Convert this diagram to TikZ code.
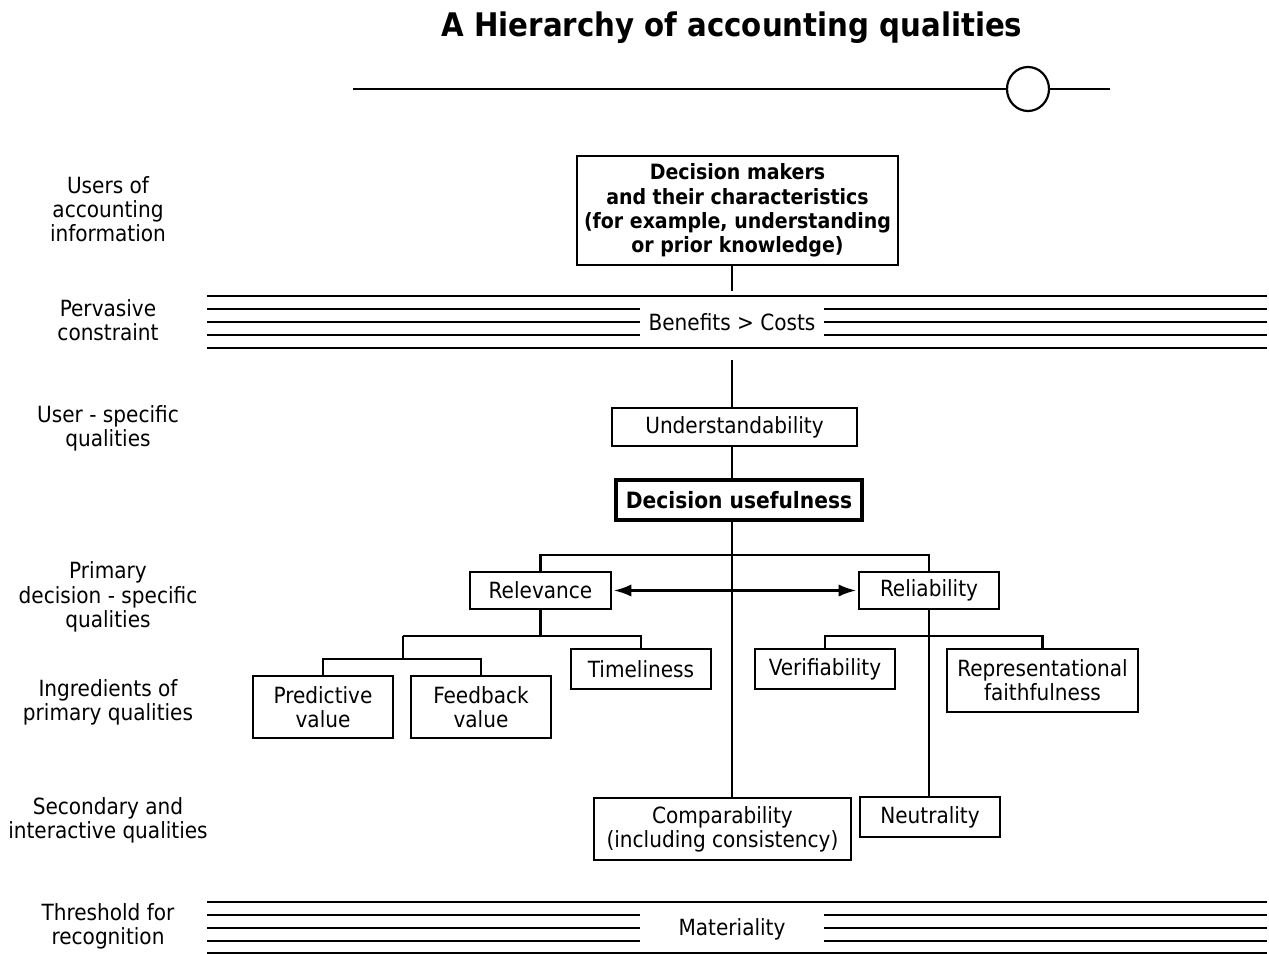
\documentclass[tikz,border=0pt]{standalone}
\usepackage{fontspec}
\setmainfont{DejaVu Sans Condensed}
\usetikzlibrary{arrows.meta,shapes.geometric}
\begin{document}
\begin{tikzpicture}[x=0.02cm, y=-0.02cm,
  every node/.style={font=\fontsize{12.7}{13.8}\selectfont, align=center, inner sep=0pt},
  sz/.style 2 args={minimum width=#1*0.02cm, minimum height=#2*0.02cm},
  box/.style={draw, line width=1.25pt},
  sidelabel/.style={},
  wire/.style={line width=1.25pt},
  rule/.style={line width=1.6pt}]
\useasboundingbox (0,0) rectangle (1269,954);

% title and ornament
\node[font=\fontsize{18.5}{20}\selectfont\bfseries] (title) at (732,28) {A Hierarchy of accounting qualities};
\node[draw, line width=1.25pt, ellipse, sz={42}{44}] (knob) at (1028,89) {};
\coordinate (ornL) at (353,89);
\coordinate (ornR) at (1110,89);
\draw[wire] (ornL) -- (knob.west);
\draw[wire] (knob.east) -- (ornR);

% row labels
\node[sidelabel] (l1) at (108,209) {Users of\\accounting\\information};
\node[sidelabel] (l2) at (108,320) {Pervasive\\constraint};
\node[sidelabel] (l3) at (108,428) {User - specific\\qualities};
\node[sidelabel] (l4) at (108,597) {Primary\\decision - specific\\qualities};
\node[sidelabel] (l5) at (108,702) {Ingredients of\\primary qualities};
\node[sidelabel] (l6) at (108,820) {Secondary and\\interactive qualities};
\node[sidelabel] (l7) at (108,926) {Threshold for\\recognition};

% boxes
\node[box, sz={321}{109}, font=\fontsize{12}{13.8}\selectfont\bfseries] (top) at (737.5,210.5)
  {Decision makers\\and their characteristics\\(for example, understanding\\or prior knowledge)};
\node[box, sz={245}{38}] (und) at (734.5,427) {Understandability};
\node[box, line width=1.8pt, sz={246}{40}, font=\fontsize{12.8}{13.8}\selectfont\bfseries] (dec) at (739,500) {Decision usefulness};
\node[box, sz={141}{37}] (rel) at (540.5,590.5) {Relevance};
\node[box, sz={140}{37}] (rlb) at (929,590.5) {Reliability};
\node[box, sz={140}{40}] (tim) at (641,669) {Timeliness};
\node[box, sz={140}{62}] (pred) at (323,707) {Predictive\\value};
\node[box, sz={140}{62}] (feed) at (481,707) {Feedback\\value};
\node[box, sz={140}{40}] (ver) at (825,669) {Verifiability};
\node[box, sz={191}{63}] (rep) at (1042.5,680.5) {Representational\\faithfulness};
\node[box, sz={257}{62}] (comp) at (722.5,829) {Comparability\\(including consistency)};
\node[box, sz={140}{40}] (neu) at (930,817) {Neutrality};

% constraint bands
\node (bc) at (732,322) {Benefits > Costs};
\node (mat) at (732,929) {Materiality};
\foreach \y in {296,348,902,953} \draw[rule] (207,\y) -- (1267,\y);
\foreach \y in {309,322,335,915,928,941} {
  \draw[rule] (207,\y) -- (640,\y);
  \draw[rule] (824,\y) -- (1267,\y);
}

% spine
\coordinate (c1) at (732,291);
\coordinate (c2) at (732,360);
\coordinate (j1) at (732,555);
\draw[wire] (c1 |- top.south) -- (c1);
\draw[wire] (c2) -- (c2 |- und.north);
\draw[wire] (c2 |- und.south) -- (c2 |- dec.north);
\draw[wire] (c2 |- dec.south) -- (j1);
\draw[wire] (rel.north) |- (rlb.north |- j1) -- (rlb.north);
\draw[wire] (j1) -- (j1 |- comp.north);
\draw[wire, {Latex[length=10pt,width=7pt]}-{Latex[length=10pt,width=7pt]}, shorten <=1pt, shorten >=1pt] (rel.east) -- (rlb.west);

% relevance branch
\coordinate (j3) at (403,636);
\coordinate (j4) at (403,659);
\draw[wire] (rel.south) -- (rel.south |- j3);
\draw[wire] (j3) -| (tim.north);
\draw[wire] (j3) -- (j4);
\draw[wire] (pred.north) |- (feed.north |- j4) -- (feed.north);

% reliability branch
\coordinate (j5) at (929,636);
\draw[wire] (rlb.south) -- (rlb.south |- neu.north);
\draw[wire] (ver.north) |- (rep.north |- j5) -- (rep.north);
\end{tikzpicture}
\end{document}
